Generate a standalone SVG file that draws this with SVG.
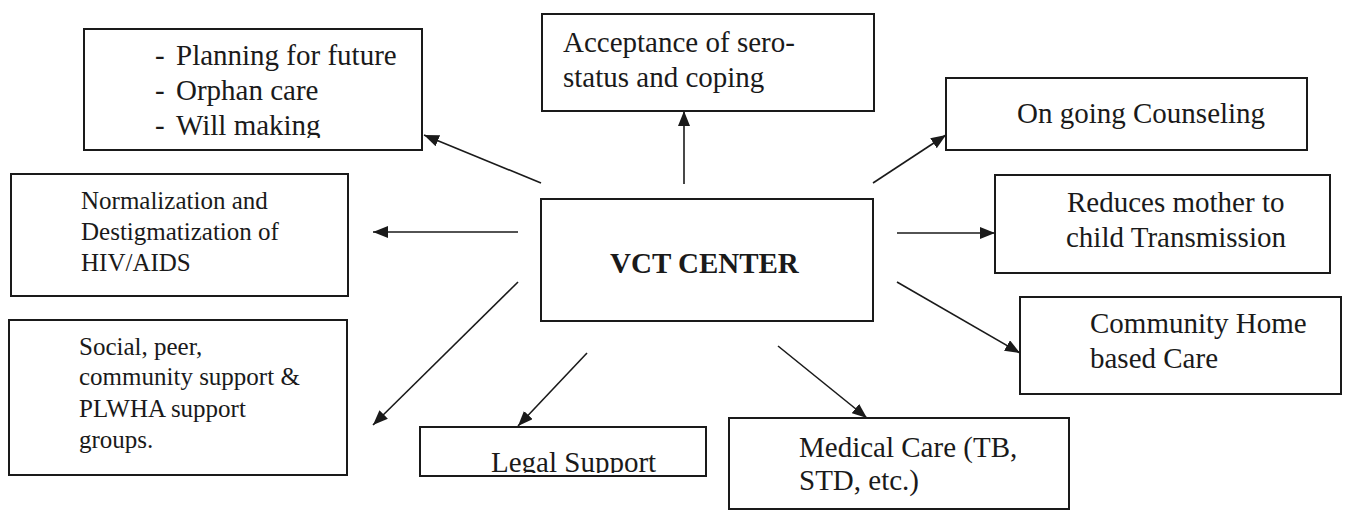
<svg xmlns="http://www.w3.org/2000/svg" width="1345" height="511" viewBox="0 0 1345 511">
<style>
.box{fill:#fff;stroke:#1a1a1a;stroke-width:2}
.t{font-family:"Liberation Serif","Times New Roman",serif;font-size:29px;fill:#1a1a1a}
.s{font-size:25px}
.b{font-weight:bold}
.c{stroke:#1a1a1a;stroke-width:1.6;fill:none;marker-end:url(#ah)}
</style>
<defs>
<marker id="ah" markerUnits="userSpaceOnUse" markerWidth="16" markerHeight="12" refX="15" refY="6" orient="auto">
<path d="M0,0 L15,6 L0,12 z" fill="#1a1a1a"/>
</marker>
<clipPath id="clipPlan"><rect x="84" y="29" width="338" height="109"/></clipPath>
<clipPath id="clipLegal"><rect x="420" y="427" width="286" height="46"/></clipPath>
</defs>
<rect width="1345" height="511" fill="#fff"/>
<g id="connectors">
<line class="c" x1="541" y1="183" x2="424" y2="135"/>
<line class="c" x1="684" y1="184" x2="684" y2="111"/>
<line class="c" x1="873" y1="183" x2="946" y2="135"/>
<line class="c" x1="518" y1="232" x2="373" y2="232"/>
<line class="c" x1="897" y1="233" x2="995" y2="233"/>
<line class="c" x1="518" y1="282" x2="373" y2="425"/>
<line class="c" x1="897" y1="282" x2="1020" y2="353"/>
<line class="c" x1="587" y1="353" x2="518" y2="426"/>
<line class="c" x1="778" y1="346" x2="867" y2="418"/>
</g>
<g id="vct">
<rect class="box" x="541" y="199" width="332" height="122"/>
<text class="t b" x="610" y="273">VCT CENTER</text>
</g>
<g id="planning">
<rect class="box" x="84" y="29" width="338" height="121"/>
<g clip-path="url(#clipPlan)">
<text class="t" x="155" y="65">-</text><text class="t" x="176" y="65">Planning for future</text>
<text class="t" x="155" y="100">-</text><text class="t" x="176" y="100">Orphan care</text>
<text class="t" x="155" y="135">-</text><text class="t" x="176" y="135">Will making</text>
</g>
</g>
<g id="acceptance">
<rect class="box" x="542" y="14" width="332" height="97"/>
<text class="t" x="563" y="52">Acceptance of sero-</text>
<text class="t" x="563" y="87">status and coping</text>
</g>
<g id="counseling">
<rect class="box" x="946" y="78" width="361" height="72"/>
<text class="t" x="1017" y="123">On going Counseling</text>
</g>
<g id="normalization">
<rect class="box" x="11" y="174" width="337" height="122"/>
<text class="t s" x="81" y="209">Normalization and</text>
<text class="t s" x="81" y="240">Destigmatization of</text>
<text class="t s" x="81" y="271">HIV/AIDS</text>
</g>
<g id="reduces">
<rect class="box" x="995" y="175" width="335" height="98"/>
<text class="t" x="1067" y="212">Reduces mother to</text>
<text class="t" x="1066" y="247">child Transmission</text>
</g>
<g id="social">
<rect class="box" x="9" y="320" width="338" height="155"/>
<text class="t s" x="79" y="355">Social, peer,</text>
<text class="t s" x="79" y="385">community support &amp;</text>
<text class="t s" x="79" y="417">PLWHA support</text>
<text class="t s" x="79" y="448">groups.</text>
</g>
<g id="community">
<rect class="box" x="1020" y="297" width="321" height="97"/>
<text class="t" x="1090" y="333">Community Home</text>
<text class="t" x="1090" y="368">based Care</text>
</g>
<g id="legal">
<rect class="box" x="420" y="427" width="286" height="49"/>
<text class="t" x="491" y="472" clip-path="url(#clipLegal)">Legal Support</text>
</g>
<g id="medical">
<rect class="box" x="729" y="418" width="340" height="91"/>
<text class="t" x="799" y="457">Medical Care (TB,</text>
<text class="t" x="799" y="490">STD, etc.)</text>
</g>
</svg>
